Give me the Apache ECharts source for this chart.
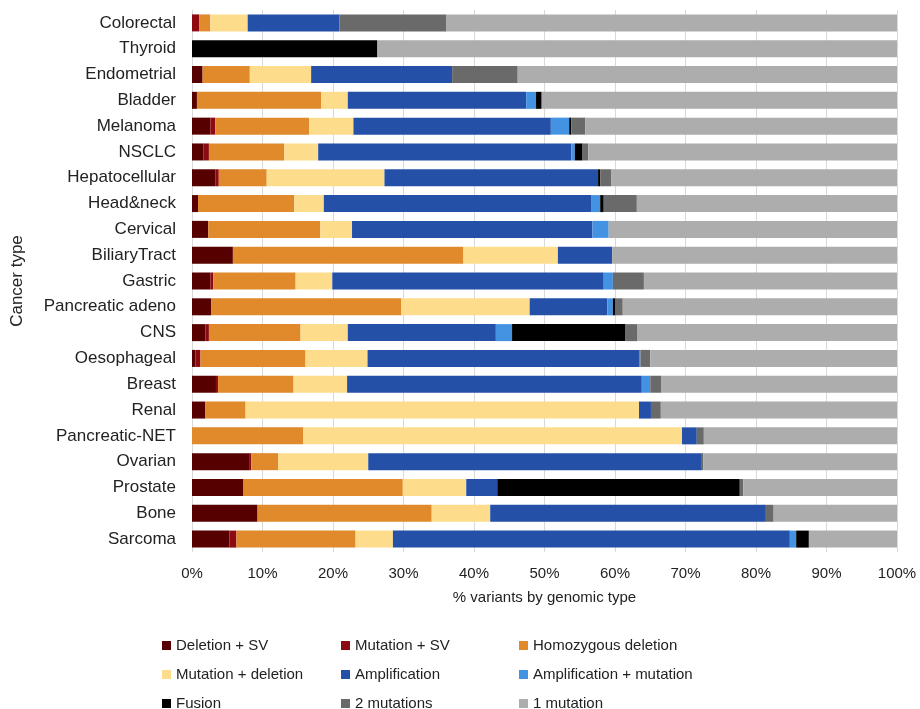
<!DOCTYPE html>
<html>
<head>
<meta charset="utf-8">
<script src="https://cdn.jsdelivr.net/npm/echarts@6/dist/echarts.min.js"></script>
<style>
  html, body { margin: 0; padding: 0; background: #ffffff; }
  #chart { width: 920px; height: 709px; }
</style>
</head>
<body>
<div id="chart"></div>
<script>
// Cancer types, top to bottom
const categories = [
  'Colorectal', 'Thyroid', 'Endometrial', 'Bladder', 'Melanoma', 'NSCLC',
  'Hepatocellular', 'Head&neck', 'Cervical', 'BiliaryTract', 'Gastric',
  'Pancreatic adeno', 'CNS', 'Oesophageal', 'Breast', 'Renal',
  'Pancreatic-NET', 'Ovarian', 'Prostate', 'Bone', 'Sarcoma'
];

// Percent of variants per genomic type, one value per cancer type
const deletionSV =        [0, 0, 1.5, 0.7, 2.6, 1.6, 3.3, 0.85, 2.3, 5.8, 2.6, 2.7, 1.9, 0.5, 3.4, 1.9, 0, 8.2, 7.3, 9.3, 5.3];
const mutationSV =        [1.0, 0, 0, 0, 0.7, 0.8, 0.5, 0, 0, 0, 0.4, 0, 0.5, 0.7, 0.3, 0, 0, 0.2, 0, 0, 1.0];
const homozygousDeletion =[1.6, 0, 6.7, 17.6, 13.3, 10.7, 6.8, 13.65, 15.9, 32.7, 11.7, 27.0, 13.0, 14.9, 10.7, 5.7, 15.8, 3.8, 22.6, 24.7, 16.9];
const mutationDeletion =  [5.3, 0, 8.7, 3.8, 6.3, 4.8, 16.7, 4.2, 4.5, 13.4, 5.2, 18.2, 6.7, 8.8, 7.6, 55.8, 53.7, 12.8, 9.0, 8.3, 5.3];
const amplification =     [13.0, 0, 20.0, 25.3, 28.0, 35.9, 30.3, 37.9, 34.1, 7.7, 38.5, 11.0, 21.0, 38.5, 41.8, 1.7, 2.1, 47.2, 4.4, 39.1, 56.3];
const amplificationMut =  [0, 0, 0, 1.4, 2.6, 0.5, 0, 1.3, 2.3, 0, 1.3, 0.8, 2.3, 0.2, 1.2, 0, 0, 0, 0, 0, 0.9];
const fusion =            [0, 26.3, 0, 0.8, 0.3, 1.1, 0.3, 0.5, 0, 0, 0, 0.3, 16.1, 0, 0, 0, 0, 0, 34.4, 0, 1.8];
const twoMutations =      [15.2, 0, 9.3, 0, 2.0, 0.8, 1.6, 4.7, 0, 0, 4.4, 1.1, 1.7, 1.4, 1.6, 1.4, 1.0, 0.3, 0.5, 1.1, 0];
const oneMutation =       [63.9, 73.7, 53.8, 50.4, 44.2, 43.8, 40.5, 36.9, 40.9, 40.4, 35.9, 38.9, 36.8, 35.0, 33.4, 33.5, 27.4, 27.5, 21.8, 17.5, 12.5];

// Axis ticks
const xTicks = [0, 10, 20, 30, 40, 50, 60, 70, 80, 90, 100];

const seriesDefs = [
  { name: 'Deletion + SV', data: deletionSV, color: '#560000' },
  { name: 'Mutation + SV', data: mutationSV, color: '#8e0a12' },
  { name: 'Homozygous deletion', data: homozygousDeletion, color: '#e08a2c' },
  { name: 'Mutation + deletion', data: mutationDeletion, color: '#fddd8c' },
  { name: 'Amplification', data: amplification, color: '#2450a8' },
  { name: 'Amplification + mutation', data: amplificationMut, color: '#4393e2' },
  { name: 'Fusion', data: fusion, color: '#000000' },
  { name: '2 mutations', data: twoMutations, color: '#6a6a6a' },
  { name: '1 mutation', data: oneMutation, color: '#adadad' }
];

const baseFont = '"Liberation Sans", Arial, sans-serif';

const chart = echarts.init(document.getElementById('chart'), null, { renderer: 'canvas' });

// One vertical legend per column, giving a 3 x 3 grid of entries
function legendColumn(names, left) {
  return {
    orient: 'vertical',
    left: left,
    top: 638,
    height: 100,
    padding: 0,
    itemWidth: 9,
    itemHeight: 9,
    itemGap: 14,
    icon: 'rect',
    selectedMode: false,
    data: names,
    textStyle: { fontFamily: baseFont, fontSize: 15, color: '#222', lineHeight: 12 }
  };
}

chart.setOption({
  backgroundColor: '#ffffff',
  animation: false,
  grid: { left: 192, right: 23, top: 10, bottom: 157, containLabel: false },
  legend: [
    legendColumn(['Deletion + SV', 'Mutation + deletion', 'Fusion'], 162),
    legendColumn(['Mutation + SV', 'Amplification', '2 mutations'], 341),
    legendColumn(['Homozygous deletion', 'Amplification + mutation', '1 mutation'], 519)
  ],
  xAxis: {
    type: 'value',
    min: xTicks[0],
    max: xTicks[xTicks.length - 1],
    interval: xTicks[1] - xTicks[0],
    name: '% variants by genomic type',
    nameLocation: 'middle',
    nameGap: 38,
    nameTextStyle: { fontFamily: baseFont, fontSize: 15, color: '#222' },
    axisLine: { show: false },
    axisTick: { show: false },
    axisLabel: {
      formatter: '{value}%',
      margin: 14,
      fontFamily: baseFont,
      fontSize: 15,
      color: '#222'
    },
    splitLine: { show: true, lineStyle: { color: '#d9d9d9', width: 1 } }
  },
  yAxis: {
    type: 'category',
    data: categories,
    inverse: true,
    name: 'Cancer type',
    nameLocation: 'middle',
    nameRotate: 90,
    nameGap: 166,
    nameTextStyle: { fontFamily: baseFont, fontSize: 17, color: '#222' },
    axisLine: { show: false },
    axisTick: { show: false },
    axisLabel: { margin: 16, fontFamily: baseFont, fontSize: 17, color: '#222' }
  },
  series: seriesDefs.map(s => ({
    name: s.name,
    type: 'bar',
    stack: 'total',
    barWidth: 17,
    data: s.data,
    itemStyle: { color: s.color },
    emphasis: { disabled: true }
  }))
});
</script>
</body>
</html>
